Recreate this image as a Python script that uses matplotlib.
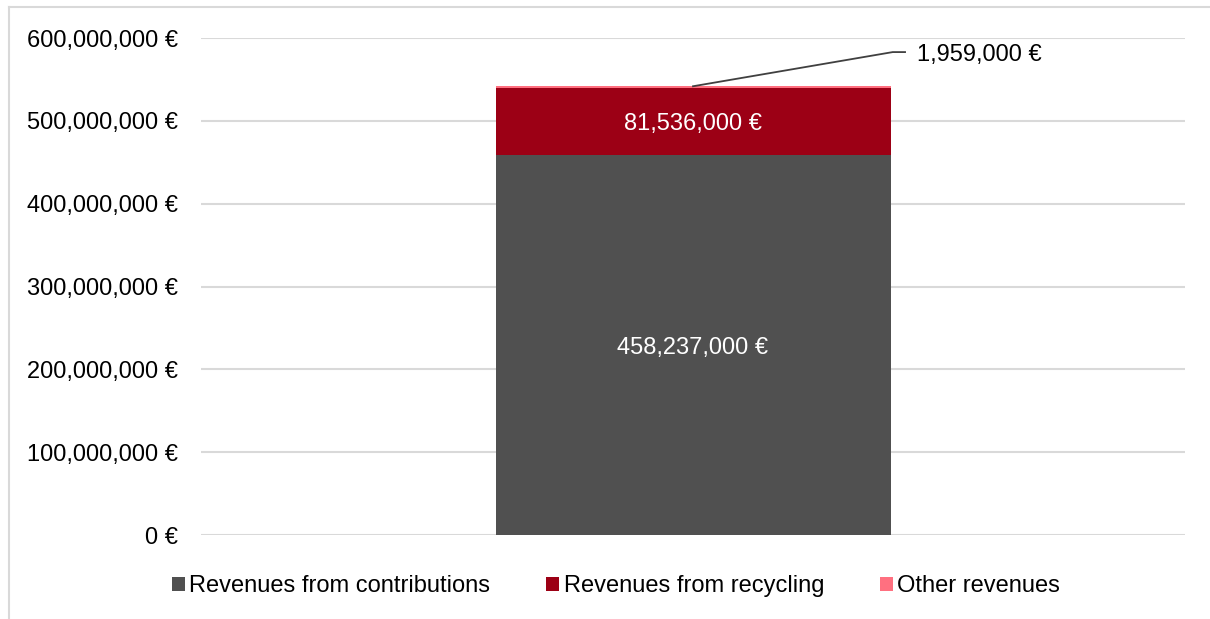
import matplotlib
matplotlib.use("Agg")
import matplotlib.pyplot as plt
from matplotlib.patches import Patch
from matplotlib.lines import Line2D

plt.rcParams['font.family'] = ['Liberation Sans', 'DejaVu Sans']

categories = ["Total"]
series_names = ["Revenues from contributions", "Revenues from recycling", "Other revenues"]
contributions = [458237000]
recycling = [81536000]
other = [1959000]
series_values = [contributions, recycling, other]
colors = ["#505050", "#9C0015", "#FF7080"]
yticks = [0, 100000000, 200000000, 300000000, 400000000, 500000000, 600000000]

def fmt(v):
    return f"{v:,.0f} €"

fig = plt.figure(figsize=(12.10, 6.19), dpi=100)
ax = fig.add_axes([201/1210, 1-535/619, 984/1210, 497/619])

x = list(range(len(categories)))
bottoms = [0]*len(categories)
bar_w = 395/984
for name, vals, c in zip(series_names, series_values, colors):
    ax.bar(x, vals, bar_w, bottom=bottoms, color=c, label=name, zorder=3)
    bottoms = [b+v for b, v in zip(bottoms, vals)]

# inside labels
b0 = 0
for vals in series_values[:2]:
    ax.text(x[0], b0 + vals[0]/2, fmt(vals[0]), color="white", fontsize=17,
            ha="center", va="center_baseline", zorder=4)
    b0 += vals[0]

# leader label for small segment
total = bottoms[0]
ly = 583000000
ax.plot([x[0], x[0]+0.203, x[0]+0.2155], [total, ly, ly], color="#404040", lw=1.3,
        zorder=4, clip_on=False)
ax.text(x[0]+0.2276, ly, fmt(other[0]), fontsize=17, ha="left", va="center_baseline", color="black")

ax.set_xlim(-0.5, 0.5)
ax.set_ylim(0, 600000000)
ax.set_yticks(yticks)
ax.set_yticklabels([fmt(v) for v in yticks], fontsize=17)
ax.set_xticks([])
ax.tick_params(axis='y', length=0, pad=16.5)
for s in ax.spines.values():
    s.set_visible(False)
ax.grid(axis='y', color="#D9D9D9", lw=1.5, zorder=0)
ax.set_axisbelow(True)

handles = [Patch(facecolor=c, edgecolor='none') for c in colors]
fig.legend(handles, series_names, loc="center", bbox_to_anchor=(616/1210, 1-586/619),
           ncol=3, frameon=False, fontsize=17, handlelength=0.55, handleheight=0.55,
           handletextpad=0.2, columnspacing=2.35, borderpad=0)

# outer chart border (top and left visible)
fig.add_artist(Line2D([9/1210, 1], [1-7/619, 1-7/619], color="#D9D9D9", lw=1.5,
                      transform=fig.transFigure))
fig.add_artist(Line2D([9/1210, 9/1210], [0, 1-7/619], color="#D9D9D9", lw=1.5,
                      transform=fig.transFigure))

fig.savefig("out.png", dpi=100)
